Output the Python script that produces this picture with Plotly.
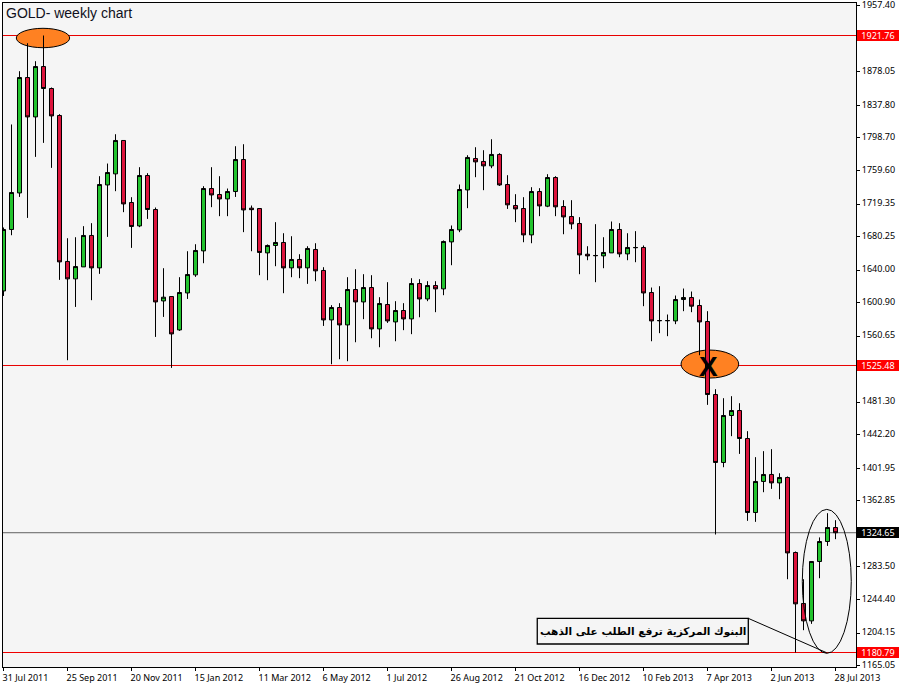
import pandas as pd
import plotly.graph_objects as go

# --- weekly bars ---
WEEKS = [d.strftime('%-d %b %Y') for d in pd.date_range('2011-07-31', periods=105, freq='7D')]

OPENS = [
    1615.0, 1688.8, 1732.7, 1871.3, 1824.0, 1884.5, 1858.1, 1825.7, 1650.4, 1629.5,
    1643.9, 1681.6, 1642.7, 1742.3, 1755.6, 1795.7, 1721.2, 1693.1, 1753.6, 1712.8,
    1603.0, 1608.3, 1568.2, 1612.6, 1634.3, 1663.1, 1738.0, 1730.8, 1725.5, 1734.4,
    1772.8, 1714.4, 1714.0, 1660.7, 1669.6, 1673.2, 1642.7, 1652.8, 1642.7, 1664.8,
    1639.6, 1580.2, 1595.1, 1574.2, 1616.7, 1601.8, 1619.1, 1569.4, 1598.7, 1577.8,
    1591.5, 1581.4, 1623.9, 1605.4, 1621.5, 1617.5, 1673.9, 1688.3, 1736.3, 1774.0,
    1770.5, 1765.2, 1778.9, 1742.8, 1717.6, 1714.0, 1682.3, 1734.4, 1716.8, 1751.2,
    1716.4, 1704.4, 1696.0, 1659.1, 1657.6, 1657.1, 1660.7, 1688.8, 1659.5, 1667.2,
    1667.2, 1613.1, 1579.5, 1579.5, 1579.0, 1604.7, 1607.1, 1597.5, 1578.3, 1490.6,
    1409.0, 1465.4, 1471.4, 1437.8, 1348.9, 1386.2, 1394.6, 1384.5, 1391.0, 1300.9,
    1239.7, 1218.8, 1290.1, 1314.1, 1330.9,
]
HIGHS = [
    1691.2, 1814.9, 1878.9, 1912.5, 1890.9, 1921.76, 1859.3, 1827.3, 1678.3, 1679.5,
    1692.8, 1696.4, 1752.8, 1768.0, 1803.2, 1795.7, 1727.6, 1763.6, 1756.4, 1715.2,
    1642.3, 1608.3, 1631.5, 1662.7, 1671.1, 1740.8, 1763.6, 1752.8, 1738.0, 1788.8,
    1791.2, 1717.6, 1714.4, 1670.8, 1697.6, 1684.3, 1680.7, 1659.1, 1668.7, 1672.3,
    1643.5, 1597.9, 1600.3, 1631.5, 1641.1, 1635.1, 1633.9, 1607.5, 1625.5, 1602.7,
    1600.3, 1630.3, 1629.1, 1626.7, 1626.7, 1675.6, 1693.6, 1742.8, 1778.0, 1787.6,
    1784.0, 1797.2, 1780.4, 1754.0, 1731.2, 1727.6, 1739.6, 1738.4, 1755.2, 1752.8,
    1724.0, 1724.0, 1703.6, 1668.7, 1695.2, 1679.5, 1698.4, 1696.4, 1684.3, 1686.8,
    1669.6, 1619.1, 1620.7, 1586.7, 1609.5, 1617.9, 1614.3, 1604.7, 1590.7, 1497.0,
    1486.2, 1488.6, 1480.2, 1446.6, 1415.4, 1422.6, 1425.0, 1396.1, 1392.2, 1302.1,
    1268.8, 1290.1, 1319.0, 1348.1, 1339.7,
]
LOWS = [
    1609.0, 1681.9, 1727.9, 1702.7, 1776.0, 1792.8, 1762.8, 1628.3, 1531.8, 1595.8,
    1643.9, 1603.9, 1635.5, 1679.9, 1734.8, 1709.6, 1666.7, 1691.6, 1701.5, 1559.8,
    1583.8, 1522.6, 1567.0, 1605.4, 1631.9, 1648.3, 1715.6, 1704.8, 1704.8, 1727.9,
    1685.6, 1662.7, 1633.9, 1627.9, 1644.7, 1612.3, 1631.5, 1630.3, 1623.5, 1626.7,
    1573.0, 1527.0, 1533.0, 1530.6, 1553.4, 1581.1, 1558.2, 1547.4, 1576.6, 1554.6,
    1567.9, 1563.1, 1583.4, 1602.7, 1589.5, 1609.9, 1645.9, 1685.6, 1714.4, 1751.6,
    1736.0, 1762.4, 1741.1, 1713.5, 1697.6, 1673.5, 1672.3, 1704.8, 1715.6, 1704.8,
    1683.1, 1689.1, 1635.1, 1651.9, 1625.5, 1642.3, 1660.7, 1655.5, 1651.9, 1649.5,
    1596.7, 1554.6, 1564.3, 1560.7, 1575.1, 1590.7, 1589.5, 1537.8, 1478.2, 1322.5,
    1403.3, 1440.6, 1419.3, 1338.9, 1337.7, 1373.3, 1377.3, 1364.9, 1268.8, 1180.79,
    1207.6, 1215.2, 1270.0, 1308.8, 1316.9,
]
CLOSES = [
    1688.8, 1733.2, 1871.3, 1824.0, 1884.5, 1858.1, 1825.2, 1649.9, 1629.5, 1644.3,
    1681.6, 1642.7, 1742.8, 1757.2, 1795.7, 1719.5, 1692.4, 1753.6, 1712.8, 1601.8,
    1607.5, 1563.4, 1613.1, 1634.7, 1663.6, 1738.0, 1730.3, 1725.5, 1734.4, 1772.8,
    1712.3, 1712.6, 1661.2, 1669.6, 1673.2, 1642.7, 1652.8, 1642.7, 1666.0, 1639.1,
    1580.2, 1595.1, 1574.2, 1616.7, 1601.8, 1619.1, 1569.4, 1599.9, 1579.0, 1591.5,
    1581.4, 1623.9, 1605.4, 1621.5, 1617.5, 1674.4, 1688.8, 1736.8, 1775.3, 1770.0,
    1765.2, 1778.9, 1742.3, 1718.4, 1713.5, 1682.3, 1734.4, 1717.1, 1751.2, 1716.0,
    1703.9, 1695.5, 1658.3, 1657.1, 1657.4, 1661.2, 1688.8, 1659.5, 1667.2, 1667.0,
    1612.6, 1579.0, 1579.3, 1579.3, 1604.7, 1607.1, 1596.7, 1577.8, 1490.6, 1409.0,
    1465.4, 1471.4, 1437.8, 1348.9, 1386.2, 1394.6, 1384.5, 1391.0, 1300.4, 1239.2,
    1218.8, 1290.1, 1314.1, 1330.9, 1324.65,
]

PRICE_TICKS = [1957.40, 1918.30, 1878.05, 1837.80, 1798.70, 1759.60, 1719.35, 1680.25,
               1640.00, 1600.90, 1560.65, 1521.55, 1481.30, 1442.20, 1401.95, 1362.85,
               1323.60, 1283.50, 1244.40, 1204.15, 1165.05]

# price level, line colour, label colour
LEVELS = [(1921.76, '#e80000', '#ff0000'), (1525.48, '#e80000', '#ff0000'),
          (1324.65, '#606060', '#000000'), (1180.79, '#f00000', '#ff0000')]

BG = '#f5f5f5'
UP = '#22c32e'
DOWN = '#dc143c'
ORANGE = '#ff8122'
TICK_FONT = dict(family='Noto Sans', size=9, color='black')

fig = go.Figure()

fig.add_trace(go.Candlestick(
    x=WEEKS, open=OPENS, high=HIGHS, low=LOWS, close=CLOSES, whiskerwidth=0,
    increasing=dict(fillcolor=UP, line=dict(color='black', width=1)),
    decreasing=dict(fillcolor=DOWN, line=dict(color='black', width=1)),
    hoverinfo='skip',
))

# orange markers sit under the candles, level lines on top of them
fig.add_shape(type='circle', layer='below', x0=1.6, x1=8.27, y0=1907.1, y1=1930.4,
              fillcolor=ORANGE, line=dict(color='black', width=1))
fig.add_shape(type='circle', layer='below', x0=84.69, x1=91.9, y0=1510.4, y1=1544.0,
              fillcolor=ORANGE, line=dict(color='black', width=1))

for price, line_color, label_color in LEVELS:
    fig.add_shape(type='line', layer='below', xref='paper', x0=0, x1=1, y0=price, y1=price,
                  line=dict(color=line_color, width=1))
    fig.add_annotation(xref='paper', x=1, xanchor='left', xshift=1, y=price, yanchor='middle',
                       text=f'{price:.2f}', showarrow=False, width=40, height=9,
                       bgcolor=label_color, borderpad=1, borderwidth=0,
                       font=dict(family='Noto Sans', size=9, color='white'))

# circled last weeks and the callout
fig.add_shape(type='circle', x0=99.85, x1=105.97, y0=1179.8, y1=1352.7,
              line=dict(color='black', width=1))
fig.add_shape(type='line', x0=93.1, x1=102.9, y0=1221.8, y1=1180.5,
              line=dict(color='black', width=1))
fig.add_shape(type='rect', x0=66.72, x1=93.1, y0=1191.0, y1=1221.8, fillcolor=BG,
              line=dict(color='black', width=1.3))
fig.add_annotation(x=79.91, y=1206.2, text='<b>البنوك المركزية ترفع الطلب على الذهب</b>',
                   showarrow=False, font=dict(family='DejaVu Sans', size=10.5, color='black'))

fig.add_annotation(x=88.1, y=1524, text='<b>X</b>', showarrow=False,
                   font=dict(family='Liberation Sans', size=28, color='black'))
fig.add_annotation(xref='paper', yref='paper', x=0.0, xshift=1, y=0.985, xanchor='left', yanchor='middle',
                   text='GOLD- weekly chart', showarrow=False,
                   font=dict(family='Liberation Sans', size=14, color='#101020'))

fig.update_xaxes(type='category', range=[-0.0625, 106.5625], rangeslider_visible=False,
                 automargin=False, tickmode='array', tickvals=WEEKS[::8], ticks='outside',
                 ticklen=3, tickwidth=1, tickcolor='black', tickangle=0,
                 ticklabelposition='outside right', ticklabelshift=-2, ticklabelstandoff=2,
                 tickfont=TICK_FONT, showgrid=False, zeroline=False, showline=True,
                 linecolor='black', linewidth=1, mirror=True)
fig.update_yaxes(side='right', range=[1163.39, 1960.79], automargin=False, tickmode='array',
                 tickvals=PRICE_TICKS, ticktext=[f'{v:.2f}' for v in PRICE_TICKS], ticks='outside',
                 ticklen=3, tickwidth=1, tickcolor='black', tickfont=TICK_FONT,
                 ticklabeloverflow='allow', ticklabelshift=-1, showgrid=False, zeroline=False,
                 showline=True, linecolor='black', linewidth=1, mirror=True)

fig.update_layout(width=900, height=684, autosize=False, showlegend=False,
                  boxgap=0.5, boxgroupgap=0,
                  margin=dict(l=3, r=44, t=3, b=17, pad=0),
                  paper_bgcolor='white', plot_bgcolor=BG)

# the page's default body margin would push the 900x684 figure off the window
fig.write_html("out.html", config=dict(displayModeBar=False),
               post_script="document.body.style.margin = '0';")
